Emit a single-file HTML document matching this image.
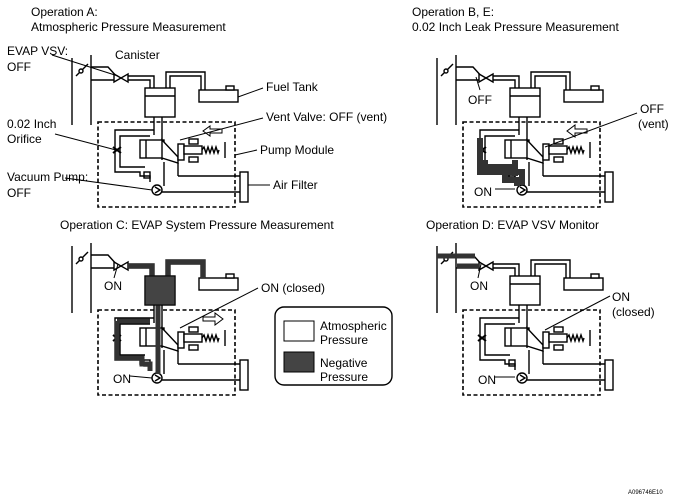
<!DOCTYPE html>
<html><head><style>
body{margin:0;background:#fff;}
svg{display:block;font-family:"Liberation Sans",Arial,sans-serif;}
text{font-size:12px;fill:#000;}
</style></head><body>
<svg width="678" height="500" viewBox="0 0 678 500" xmlns="http://www.w3.org/2000/svg">
<defs>
<g id="dg" fill="none" stroke="#000" stroke-width="1.4">
  <line x1="72" y1="58" x2="72" y2="125"/>
  <line x1="91" y1="55" x2="91" y2="125"/>
  <line x1="76" y1="76" x2="88" y2="64"/>
  <circle cx="81" cy="71" r="2" fill="#fff"/>
  <polyline points="91,67 108,67 118,78"/>
  <line x1="91" y1="80" x2="114" y2="80"/>
  <polygon points="114,74 114,82 128,74 128,82" fill="#fff"/>
  <polyline points="128,76 154,76 154,88"/>
  <polyline points="128,80 150,80 150,88"/>
  <rect x="145" y="88" width="30" height="29" fill="#fff"/>
  <line x1="145" y1="96" x2="175" y2="96"/>
  <polyline points="166,88 166,72 205,72 205,90"/>
  <polyline points="170,88 170,76 201,76 201,90"/>
  <rect x="199" y="90" width="39" height="12" fill="#fff"/>
  <rect x="226" y="86" width="8" height="4" fill="#fff"/>
  <line x1="154" y1="117" x2="154" y2="135"/>
  <line x1="162" y1="117" x2="162" y2="160"/>
  <rect x="98" y="122" width="137" height="85" stroke-dasharray="4,2.5" stroke-width="1.6"/>
  <polyline points="154,130 115,130 115,172 140,172 140,176 150,176 150,182"/>
  <polyline points="150,136 120,136 120,167 145,167"/>
  <path d="M113,147 l4,3 l-4,3 M121,147 l-4,3 l4,3" stroke-width="2"/>
  <rect x="140" y="140" width="24" height="18" fill="#fff"/>
  <line x1="146" y1="140" x2="146" y2="158"/>
  <polygon points="162,140 178,157 178,163 162,158" fill="#fff"/>
  <rect x="178" y="144" width="6" height="16" fill="#fff"/>
  <rect x="184" y="146" width="18" height="8" fill="#fff"/>
  <rect x="189" y="139" width="9" height="5" fill="#fff"/>
  <rect x="189" y="157" width="9" height="5" fill="#fff"/>
  <path d="M202,150 l2,-3 l2,6 l2,-6 l2,6 l2,-6 l2,6 l2,-6 l2,6 l1,-3"/>
  <line x1="225" y1="142" x2="225" y2="158"/>
  <rect x="144" y="172" width="6" height="6"/>
  <line x1="164" y1="162" x2="164" y2="186"/>
  <line x1="178" y1="163" x2="178" y2="176"/>
  <line x1="178" y1="176" x2="240" y2="176"/>
  <circle cx="157" cy="190" r="5" fill="#fff"/>
  <path d="M155,187 l5,3 l-5,3"/>
  <line x1="162" y1="192" x2="240" y2="192"/>
  <rect x="240" y="172" width="8" height="30" fill="#fff"/>
</g>
</defs>

<use href="#dg"/>
<polygon points="222,129 210,129 210,126 203,131 210,136 210,133 222,133" fill="#fff" stroke="#000"/>
<g transform="translate(365,0)">
  <use href="#dg"/>
  <path d="M115,138 L115,172 140,172 140,180 152,180 152,186 M120,160 L120,167 145,167 145,172 157,172 157,185 M150,160 L150,176" stroke="#333" stroke-width="6" fill="none"/>
  <polygon points="222,129 210,129 210,125 202,131 210,137 210,133 222,133" fill="#fff" stroke="#000"/>
</g>
<g transform="translate(0,188)">
  <use href="#dg"/>
  <path d="M128,78 L152,78 152,90 M168,88 168,74 203,74 203,90 M158,117 158,186 M117,133 L150,133 M117,133 117,170 142,170 142,176 150,176 150,183" stroke="#333" stroke-width="5" fill="none"/>
  <rect x="145" y="88" width="30" height="29" fill="#444" stroke="#000"/>
  <polygon points="203,129 215,129 215,125 223,131 215,137 215,133 203,133" fill="#fff" stroke="#000"/>
</g>
<g transform="translate(365,188)">
  <use href="#dg"/>
  <path d="M72,68 L110,68 M92,78 L114,78" stroke="#333" stroke-width="5" fill="none"/>
</g>

<rect x="275" y="307" width="117" height="78" rx="9" fill="#fff" stroke="#000" stroke-width="1.4"/>
<rect x="284" y="321" width="30" height="20" fill="#fff" stroke="#000"/>
<rect x="284" y="352" width="30" height="20" fill="#444" stroke="#000"/>
<text x="320" y="330">Atmospheric</text><text x="320" y="344">Pressure</text>
<text x="320" y="367">Negative</text><text x="320" y="381">Pressure</text>

<g stroke="#000" stroke-width="1" fill="none">
  <line x1="52" y1="55" x2="118" y2="76"/>
  <line x1="55" y1="134" x2="116" y2="150"/>
  <line x1="65" y1="178" x2="152" y2="190"/>
  <line x1="238" y1="97" x2="263" y2="88"/>
  <line x1="180" y1="140" x2="263" y2="118"/>
  <line x1="235" y1="155" x2="257" y2="150"/>
  <line x1="248" y1="185" x2="270" y2="185"/>
  <line x1="545" y1="147" x2="637" y2="113"/>
  <line x1="545" y1="330" x2="610" y2="296"/>
  <line x1="180" y1="328" x2="258" y2="288"/>
  <line x1="476" y1="77" x2="480" y2="90"/>
  <line x1="481" y1="264" x2="478" y2="278"/>
  <line x1="118" y1="264" x2="114" y2="278"/>
  <line x1="495" y1="189" x2="515" y2="189"/>
  <line x1="130" y1="376" x2="152" y2="378"/>
  <line x1="495" y1="377" x2="515" y2="377"/>
</g>
<text x="31" y="16">Operation A:</text>
<text x="31" y="31">Atmospheric Pressure Measurement</text>
<text x="7" y="55">EVAP VSV:</text><text x="7" y="71">OFF</text>
<text x="115" y="59">Canister</text>
<text x="266" y="91">Fuel Tank</text>
<text x="7" y="128">0.02 Inch</text><text x="7" y="143">Orifice</text>
<text x="266" y="121">Vent Valve: OFF (vent)</text>
<text x="260" y="154">Pump Module</text>
<text x="7" y="181">Vacuum Pump:</text><text x="7" y="197">OFF</text>
<text x="273" y="189">Air Filter</text>
<text x="412" y="16">Operation B, E:</text>
<text x="412" y="31">0.02 Inch Leak Pressure Measurement</text>
<text x="468" y="104">OFF</text>
<text x="640" y="113">OFF</text><text x="638" y="128">(vent)</text>
<text x="474" y="196">ON</text>
<text x="60" y="229">Operation C: EVAP System Pressure Measurement</text>
<text x="104" y="290">ON</text>
<text x="261" y="292">ON (closed)</text>
<text x="113" y="383">ON</text>
<text x="426" y="229">Operation D: EVAP VSV Monitor</text>
<text x="470" y="290">ON</text>
<text x="612" y="301">ON</text><text x="612" y="316">(closed)</text>
<text x="478" y="384">ON</text>
<text x="628" y="494" style="font-size:6px">A096746E10</text>
</svg>
</body></html>
